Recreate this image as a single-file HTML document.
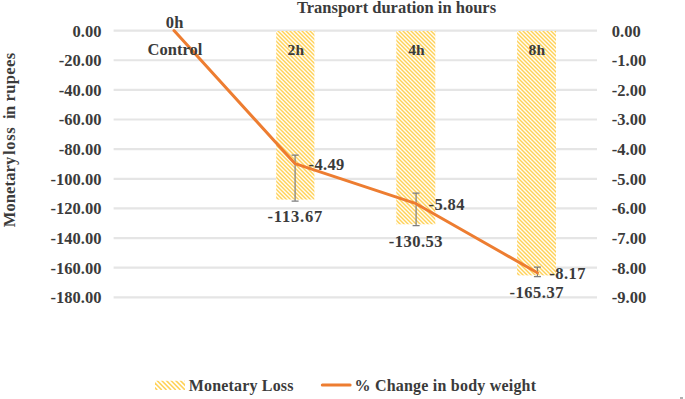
<!DOCTYPE html>
<html><head><meta charset="utf-8"><style>
html,body{margin:0;padding:0;background:#fff;width:685px;height:399px;overflow:hidden}
svg{display:block}
</style></head><body>
<svg width="685" height="399" viewBox="0 0 685 399">
<defs><pattern id="h1" patternUnits="userSpaceOnUse" width="4" height="4"><g shape-rendering="crispEdges"><rect x="0" y="0" width="1" height="1" fill="#ffe7a8"/><rect x="1" y="0" width="1" height="1" fill="#fffdf6"/><rect x="2" y="0" width="1" height="1" fill="#ffe7a8"/><rect x="3" y="0" width="1" height="1" fill="#ffd258"/><rect x="0" y="1" width="1" height="1" fill="#ffd258"/><rect x="1" y="1" width="1" height="1" fill="#ffe7a8"/><rect x="2" y="1" width="1" height="1" fill="#fffdf6"/><rect x="3" y="1" width="1" height="1" fill="#ffe7a8"/><rect x="0" y="2" width="1" height="1" fill="#ffe7a8"/><rect x="1" y="2" width="1" height="1" fill="#ffd258"/><rect x="2" y="2" width="1" height="1" fill="#ffe7a8"/><rect x="3" y="2" width="1" height="1" fill="#fffdf6"/><rect x="0" y="3" width="1" height="1" fill="#fffdf6"/><rect x="1" y="3" width="1" height="1" fill="#ffe7a8"/><rect x="2" y="3" width="1" height="1" fill="#ffd258"/><rect x="3" y="3" width="1" height="1" fill="#ffe7a8"/></g></pattern><pattern id="h2" patternUnits="userSpaceOnUse" width="4" height="4"><g shape-rendering="crispEdges"><rect x="0" y="0" width="1" height="1" fill="#ffd258"/><rect x="1" y="0" width="1" height="1" fill="#ffe7a8"/><rect x="2" y="0" width="1" height="1" fill="#fffdf6"/><rect x="3" y="0" width="1" height="1" fill="#ffe7a8"/><rect x="0" y="1" width="1" height="1" fill="#ffe7a8"/><rect x="1" y="1" width="1" height="1" fill="#ffd258"/><rect x="2" y="1" width="1" height="1" fill="#ffe7a8"/><rect x="3" y="1" width="1" height="1" fill="#fffdf6"/><rect x="0" y="2" width="1" height="1" fill="#fffdf6"/><rect x="1" y="2" width="1" height="1" fill="#ffe7a8"/><rect x="2" y="2" width="1" height="1" fill="#ffd258"/><rect x="3" y="2" width="1" height="1" fill="#ffe7a8"/><rect x="0" y="3" width="1" height="1" fill="#ffe7a8"/><rect x="1" y="3" width="1" height="1" fill="#fffdf6"/><rect x="2" y="3" width="1" height="1" fill="#ffe7a8"/><rect x="3" y="3" width="1" height="1" fill="#ffd258"/></g></pattern><pattern id="h3" patternUnits="userSpaceOnUse" width="4" height="4"><g shape-rendering="crispEdges"><rect x="0" y="0" width="1" height="1" fill="#ffd258"/><rect x="1" y="0" width="1" height="1" fill="#ffe7a8"/><rect x="2" y="0" width="1" height="1" fill="#fffdf6"/><rect x="3" y="0" width="1" height="1" fill="#ffe7a8"/><rect x="0" y="1" width="1" height="1" fill="#ffe7a8"/><rect x="1" y="1" width="1" height="1" fill="#ffd258"/><rect x="2" y="1" width="1" height="1" fill="#ffe7a8"/><rect x="3" y="1" width="1" height="1" fill="#fffdf6"/><rect x="0" y="2" width="1" height="1" fill="#fffdf6"/><rect x="1" y="2" width="1" height="1" fill="#ffe7a8"/><rect x="2" y="2" width="1" height="1" fill="#ffd258"/><rect x="3" y="2" width="1" height="1" fill="#ffe7a8"/><rect x="0" y="3" width="1" height="1" fill="#ffe7a8"/><rect x="1" y="3" width="1" height="1" fill="#fffdf6"/><rect x="2" y="3" width="1" height="1" fill="#ffe7a8"/><rect x="3" y="3" width="1" height="1" fill="#ffd258"/></g></pattern><pattern id="hatch" patternUnits="userSpaceOnUse" width="4" height="4"><g shape-rendering="crispEdges"><rect x="0" y="0" width="1" height="1" fill="#ffd258"/><rect x="1" y="0" width="1" height="1" fill="#ffe7a8"/><rect x="2" y="0" width="1" height="1" fill="#fffdf6"/><rect x="3" y="0" width="1" height="1" fill="#ffe7a8"/><rect x="0" y="1" width="1" height="1" fill="#ffe7a8"/><rect x="1" y="1" width="1" height="1" fill="#ffd258"/><rect x="2" y="1" width="1" height="1" fill="#ffe7a8"/><rect x="3" y="1" width="1" height="1" fill="#fffdf6"/><rect x="0" y="2" width="1" height="1" fill="#fffdf6"/><rect x="1" y="2" width="1" height="1" fill="#ffe7a8"/><rect x="2" y="2" width="1" height="1" fill="#ffd258"/><rect x="3" y="2" width="1" height="1" fill="#ffe7a8"/><rect x="0" y="3" width="1" height="1" fill="#ffe7a8"/><rect x="1" y="3" width="1" height="1" fill="#fffdf6"/><rect x="2" y="3" width="1" height="1" fill="#ffe7a8"/><rect x="3" y="3" width="1" height="1" fill="#ffd258"/></g></pattern></defs>
<rect width="685" height="399" fill="#fff"/>
<line x1="113.6" x2="597.0" y1="30.60" y2="30.60" stroke="#e5e5e5" stroke-width="2.2"/>
<line x1="113.6" x2="597.0" y1="60.24" y2="60.24" stroke="#e5e5e5" stroke-width="2.2"/>
<line x1="113.6" x2="597.0" y1="89.88" y2="89.88" stroke="#e5e5e5" stroke-width="2.2"/>
<line x1="113.6" x2="597.0" y1="119.52" y2="119.52" stroke="#e5e5e5" stroke-width="2.2"/>
<line x1="113.6" x2="597.0" y1="149.16" y2="149.16" stroke="#e5e5e5" stroke-width="2.2"/>
<line x1="113.6" x2="597.0" y1="178.80" y2="178.80" stroke="#e5e5e5" stroke-width="2.2"/>
<line x1="113.6" x2="597.0" y1="208.44" y2="208.44" stroke="#e5e5e5" stroke-width="2.2"/>
<line x1="113.6" x2="597.0" y1="238.08" y2="238.08" stroke="#e5e5e5" stroke-width="2.2"/>
<line x1="113.6" x2="597.0" y1="267.72" y2="267.72" stroke="#e5e5e5" stroke-width="2.2"/>
<line x1="113.6" x2="597.0" y1="297.36" y2="297.36" stroke="#e5e5e5" stroke-width="2.2"/>
<rect x="276.2" y="31" width="38.20" height="168.60" fill="url(#h1)"/>
<rect x="396.3" y="31" width="39.00" height="193.30" fill="url(#h2)"/>
<rect x="517.1" y="31" width="38.90" height="244.40" fill="url(#h3)"/>
<path d="M295.1,155.1 V201.1 M291.6,155.1 h7 M291.6,201.1 h7" stroke="#7f7f7f" stroke-width="1.2" fill="none"/>
<path d="M416.1,193.2 V225.7 M412.6,193.2 h7 M412.6,225.7 h7" stroke="#7f7f7f" stroke-width="1.2" fill="none"/>
<path d="M537.4,267.2 V276.6 M533.9,267.2 h7 M533.9,276.6 h7" stroke="#7f7f7f" stroke-width="1.2" fill="none"/>
<path d="M174.00,30.60 L295.10,163.68 L416.10,203.70 L537.40,272.76" stroke="#ed7d31" stroke-width="3" fill="none" stroke-linejoin="round" stroke-linecap="round"/>
<g font-family="Liberation Serif" font-weight="bold" font-size="16.5" fill="#3b3b3b">
<text x="72.55" y="36.50">0.00</text>
<text x="611.77" y="36.50">0.00</text>
<text x="58.81" y="66.14">-20.00</text>
<text x="611.80" y="66.14">-1.00</text>
<text x="58.81" y="95.78">-40.00</text>
<text x="611.80" y="95.78">-2.00</text>
<text x="58.81" y="125.42">-60.00</text>
<text x="611.80" y="125.42">-3.00</text>
<text x="58.81" y="155.06">-80.00</text>
<text x="611.80" y="155.06">-4.00</text>
<text x="50.56" y="184.70">-100.00</text>
<text x="611.80" y="184.70">-5.00</text>
<text x="50.56" y="214.34">-120.00</text>
<text x="611.80" y="214.34">-6.00</text>
<text x="50.56" y="243.98">-140.00</text>
<text x="611.80" y="243.98">-7.00</text>
<text x="50.56" y="273.62">-160.00</text>
<text x="611.80" y="273.62">-8.00</text>
<text x="50.56" y="303.26">-180.00</text>
<text x="611.80" y="303.26">-9.00</text>
<text x="296.94" y="12.80">Transport duration in hours</text>
<text x="165.67" y="28.30" letter-spacing="0.452">0h</text>
<text x="147.49" y="54.60" letter-spacing="0.032">Control</text>
<text x="287.45" y="54.70" letter-spacing="0.215" font-size="15.5">2h</text>
<text x="408.29" y="54.70" letter-spacing="-0.124" font-size="15.5">4h</text>
<text x="528.59" y="54.70" letter-spacing="0.179" font-size="15.5">8h</text>
<text x="308.60" y="169.70" letter-spacing="0.308">-4.49</text>
<text x="267.50" y="221.80" letter-spacing="0.806">-113.67</text>
<text x="428.60" y="210.10" letter-spacing="0.385">-5.84</text>
<text x="388.80" y="246.70" letter-spacing="0.483">-130.53</text>
<text x="549.20" y="279.20" letter-spacing="0.509">-8.17</text>
<text x="509.40" y="297.80" letter-spacing="0.556">-165.37</text>
<text transform="translate(14.9,227.00) rotate(-90)" x="-0.28" y="0" letter-spacing="0.115">Monetary</text>
<text transform="translate(14.9,154.70) rotate(-90)" x="-0.32" y="0" letter-spacing="0.683">loss</text>
<text transform="translate(14.9,118.60) rotate(-90)" x="-0.36" y="0" letter-spacing="-0.548">in</text>
<text transform="translate(14.9,101.00) rotate(-90)" x="-0.44" y="0" letter-spacing="0.360">rupees</text>
<text x="188.83" y="390.70" letter-spacing="0.167" font-size="16">Monetary Loss</text>
<text x="354.46" y="390.70" letter-spacing="0.213" font-size="16">% Change in body weight</text>
</g>
<clipPath id="lg"><rect x="155" y="380.8" width="30" height="9.2"/></clipPath>
<g clip-path="url(#lg)" stroke="#ffd258" stroke-width="1.6"><line x1="142.55" y1="380" x2="152.55" y2="390"/><line x1="147.20" y1="380" x2="157.20" y2="390"/><line x1="151.85" y1="380" x2="161.85" y2="390"/><line x1="156.50" y1="380" x2="166.50" y2="390"/><line x1="161.15" y1="380" x2="171.15" y2="390"/><line x1="165.80" y1="380" x2="175.80" y2="390"/><line x1="170.45" y1="380" x2="180.45" y2="390"/><line x1="175.10" y1="380" x2="185.10" y2="390"/><line x1="179.75" y1="380" x2="189.75" y2="390"/><line x1="184.40" y1="380" x2="194.40" y2="390"/><line x1="189.05" y1="380" x2="199.05" y2="390"/></g>
<line x1="322.3" x2="350.1" y1="385.1" y2="385.1" stroke="#ed7d31" stroke-width="3" stroke-linecap="round"/>
<rect x="680" y="397" width="3" height="2" fill="#b0b0b0"/>
</svg>
</body></html>
